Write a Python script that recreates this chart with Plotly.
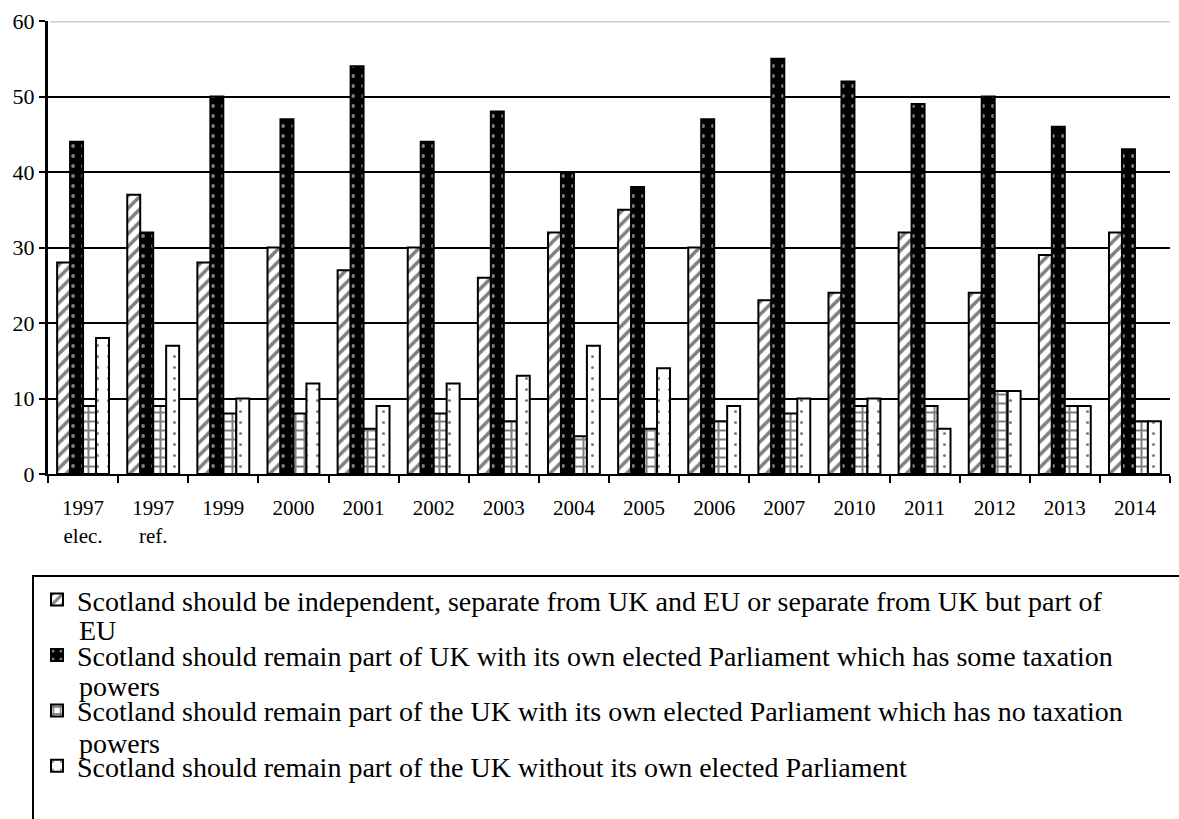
import plotly.graph_objects as go

categories = ["1997<br>elec.", "1997<br>ref.", "1999", "2000", "2001", "2002", "2003", "2004",
              "2005", "2006", "2007", "2010", "2011", "2012", "2013", "2014"]

independent = [28, 37, 28, 30, 27, 30, 26, 32, 35, 30, 23, 24, 32, 24, 29, 32]
some_tax = [44, 32, 50, 47, 54, 44, 48, 40, 38, 47, 55, 52, 49, 50, 46, 43]
no_tax = [9, 9, 8, 8, 6, 8, 7, 5, 6, 7, 8, 9, 9, 11, 9, 7]
without_parl = [18, 17, 10, 12, 9, 12, 13, 17, 14, 9, 10, 10, 6, 11, 9, 7]

# legend labels: first line shown in legend, wrapped remainder as continuation text
names = [
    "Scotland should be independent, separate from UK and EU or separate from UK but part of",
    "Scotland should remain part of UK with its own elected Parliament which has some taxation",
    "Scotland should remain part of the UK with its own elected Parliament which has no taxation",
    "Scotland should remain part of the UK without its own elected Parliament",
]
continuations = ["EU", "powers", "powers", ""]

y_ticks = [0, 10, 20, 30, 40, 50, 60]

FONT = "Liberation Serif"
LEG_SIZE = 28

# plot area geometry in pixels (used to convert legend-area positions to paper coords)
W, H = 1179, 819
ML, MR, MT, MB = 48, 9, 16, 345
PW, PH = W - ML - MR, H - MT - MB


def px_to_paper_y(py):
    return (H - MB - py) / PH


def px_to_paper_x(px):
    return (px - ML) / PW


fig = go.Figure()

styles = [
    dict(color="white", line=dict(color="black", width=2),
         pattern=dict(shape="/", fgcolor="black", bgcolor="white", size=9, solidity=0.4)),
    dict(color="black", line=dict(color="black", width=2),
         pattern=dict(shape=".", fgcolor="white", bgcolor="black", size=10, solidity=0.12)),
    dict(color="white", line=dict(color="black", width=2),
         pattern=dict(shape="+", fgcolor="black", bgcolor="white", size=9, solidity=0.4)),
    dict(color="white", line=dict(color="black", width=2),
         pattern=dict(shape=".", fgcolor="black", bgcolor="white", size=11, solidity=0.06)),
]
series = [independent, some_tax, no_tax, without_parl]

for i, (vals, nm, st) in enumerate(zip(series, names, styles)):
    fig.add_trace(go.Bar(x=categories, y=vals, name=nm, marker=st, legendgroup=f"g{i}"))

legend_first_line_px = [601, 658, 715, 772]
annotations = []
for cont, ly in zip(continuations, legend_first_line_px):
    if cont:
        annotations.append(dict(
            text=cont, xref="paper", yref="paper",
            x=px_to_paper_x(77), y=px_to_paper_y(ly + 31),
            xanchor="left", yanchor="middle", showarrow=False,
            font=dict(family=FONT, size=LEG_SIZE, color="black"),
        ))

fig.update_layout(
    width=W, height=H,
    margin=dict(l=ML, r=MR, t=MT, b=MB),
    paper_bgcolor="white", plot_bgcolor="white",
    barmode="group", bargap=0.26, bargroupgap=0,
    font=dict(family=FONT, color="black", size=20),
    showlegend=True,
    legend=dict(
        x=px_to_paper_x(37), xanchor="left", y=px_to_paper_y(576), yanchor="top",
        bgcolor="rgba(0,0,0,0)", borderwidth=0,
        font=dict(family=FONT, size=LEG_SIZE, color="black"),
        tracegroupgap=16, traceorder="grouped",
    ),
    xaxis=dict(
        type="category", showline=True, linecolor="black", linewidth=2,
        ticks="outside", tickson="boundaries", ticklen=7, tickwidth=2, tickcolor="black",
        tickfont=dict(family=FONT, size=21, color="black"), showgrid=False,
        tickangle=0, ticklabelstandoff=14,
    ),
    yaxis=dict(
        range=[0, 60], tickvals=y_ticks, showline=True, linecolor="black", linewidth=3,
        ticks="outside", ticklen=6, tickwidth=2, tickcolor="black",
        showgrid=True, gridcolor="black", gridwidth=2, zeroline=False,
        tickfont=dict(family=FONT, size=22, color="black"),
    ),
    annotations=annotations,
    shapes=[
        dict(type="line", xref="paper", yref="y", x0=0.002, x1=1, y0=y_ticks[-1], y1=y_ticks[-1],
             line=dict(color="#cccccc", width=3), layer="above"),
        dict(type="rect", xref="paper", yref="paper", x0=px_to_paper_x(33), x1=1.02,
             y0=px_to_paper_y(577), y1=px_to_paper_y(840),
             line=dict(color="black", width=2), fillcolor="rgba(0,0,0,0)", layer="below"),
    ],
)

fig.write_html("out.html")
